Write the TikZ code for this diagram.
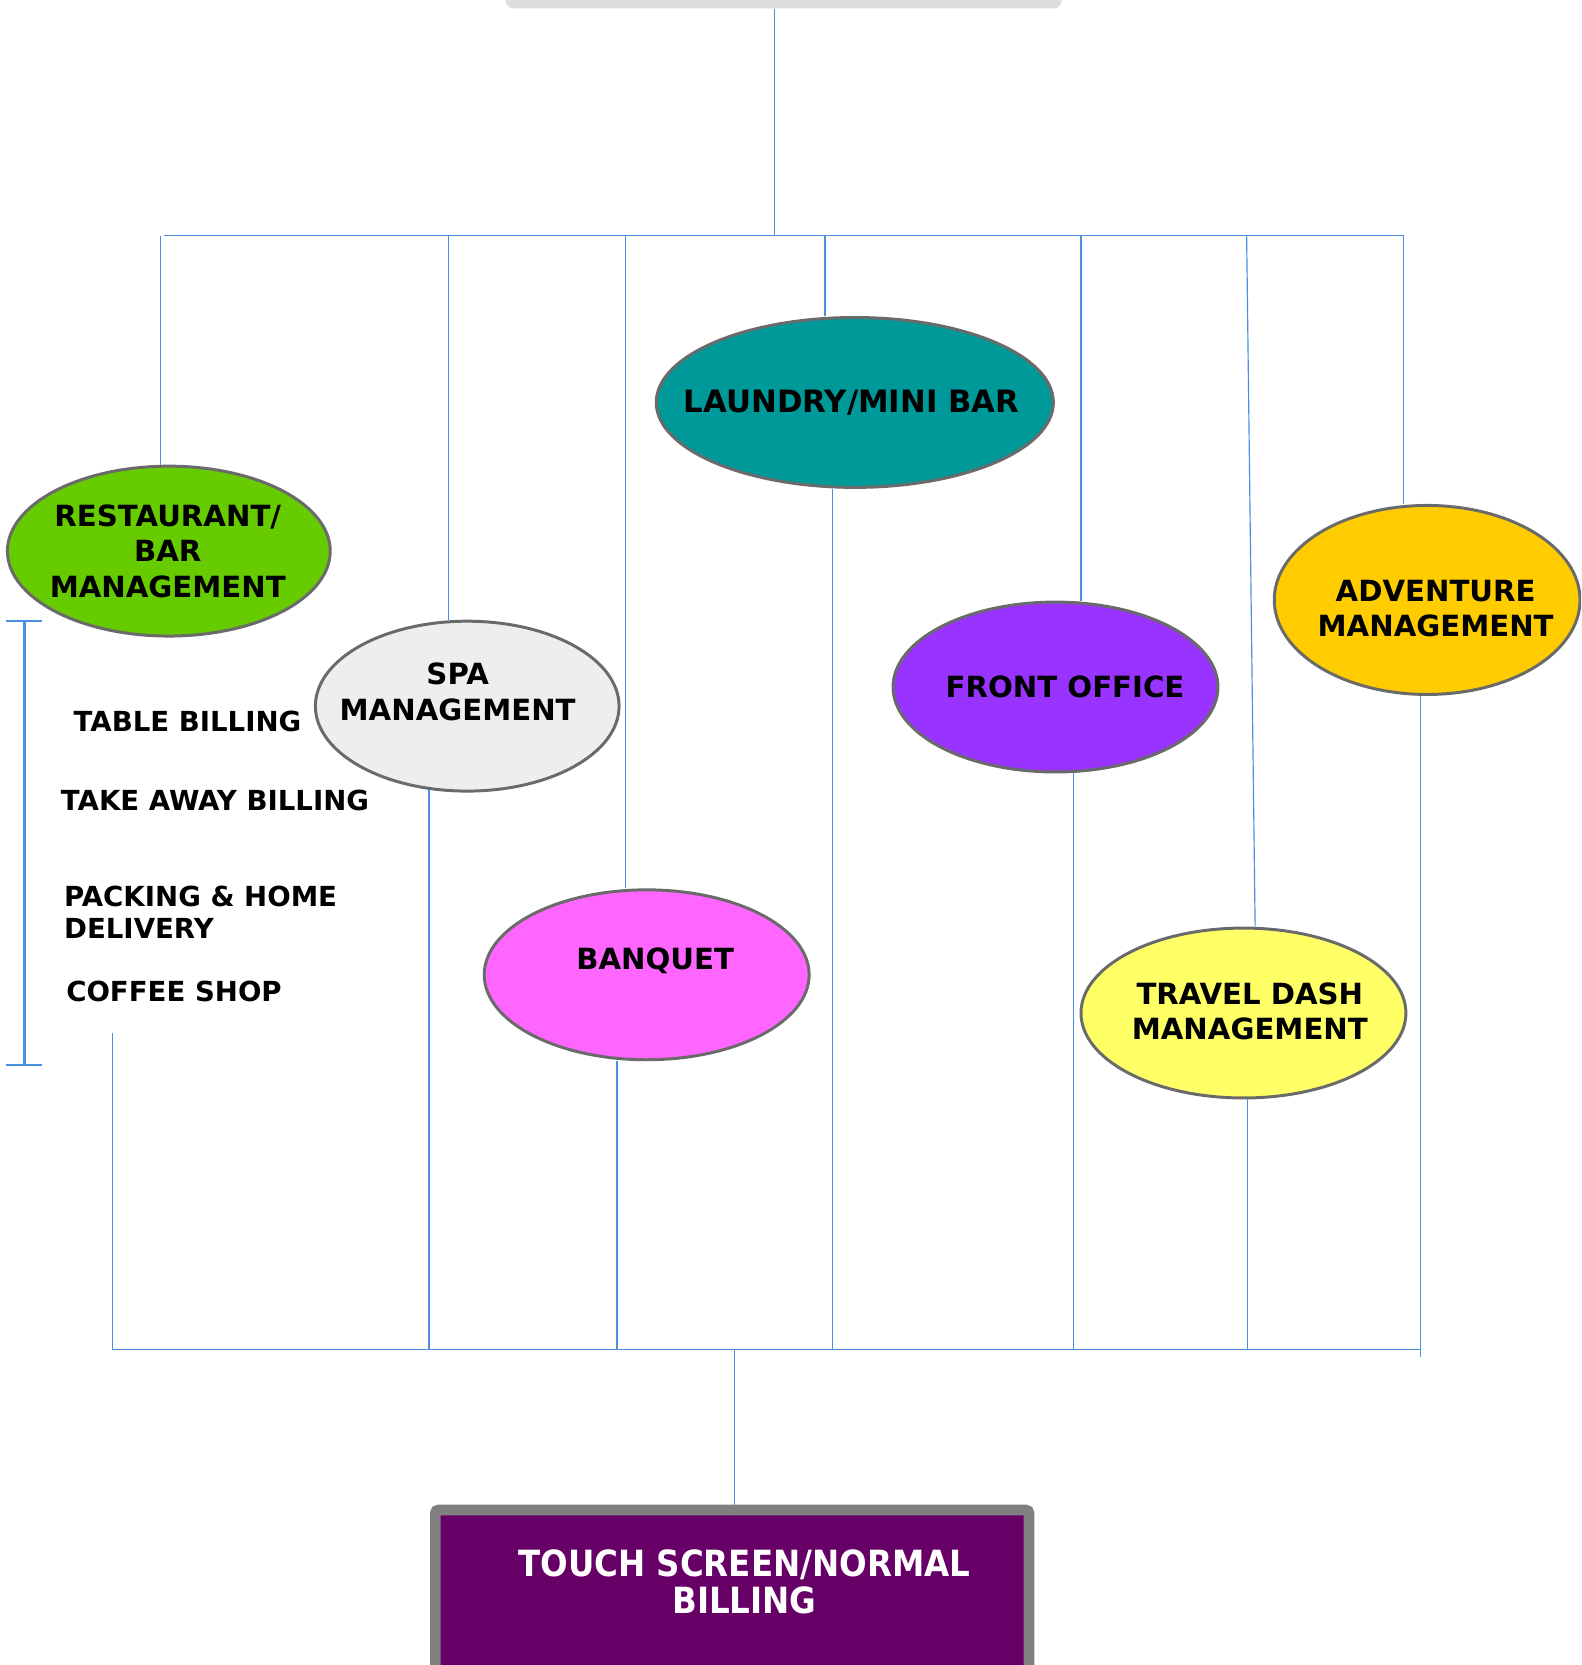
\documentclass[tikz,border=0pt]{standalone}
\usepackage{fontspec}
\setmainfont{DejaVu Sans}
\newfontfamily\condf{DejaVu Sans Condensed}
\usetikzlibrary{shapes.geometric,calc}
\definecolor{connc}{HTML}{4A8FE0}
\definecolor{ovalb}{HTML}{6A6A6A}
\definecolor{teal1}{HTML}{009999}
\definecolor{green1}{HTML}{66CC00}
\definecolor{spa1}{HTML}{EEEEEE}
\definecolor{purple1}{HTML}{9933FF}
\definecolor{gold1}{HTML}{FFCC00}
\definecolor{pink1}{HTML}{FF66FF}
\definecolor{yellow1}{HTML}{FFFF66}
\definecolor{billfill}{HTML}{660066}
\definecolor{billborder}{HTML}{808080}
\definecolor{topfill}{HTML}{DDDDDD}
\tikzset{
  conn/.style={draw=connc, line width=0.55pt},
  bracketline/.style={draw=connc, line width=1.2pt},
  oval/.style={ellipse, draw=ovalb, line width=1.4pt, inner sep=0pt},
  ovaltext/.style={font=\bfseries\fontsize{13.75}{16.75}\selectfont, align=center, text=black},
  sidetext/.style={font=\bfseries\fontsize{13}{15}\selectfont, align=left, anchor=west, inner sep=0pt},
}
\begin{document}
\begin{tikzpicture}[x=0.5pt,y=-0.5pt]
\useasboundingbox (0,0) rectangle (1489,1568);
\clip (0,0) rectangle (1489,1568);

% top box
\node[fill=topfill, rounded corners=4pt, minimum width=262pt, minimum height=20pt, inner sep=0pt] (top) at (738,-12) {};

% ellipses
\node[oval, fill=teal1, minimum width=187pt, minimum height=80pt,
  label={[font=\bfseries\fontsize{14.5}{17}\selectfont, xshift=-1.5pt]center:LAUNDRY/MINI BAR}] (laun) at (805,379) {};
\node[oval, fill=green1, minimum width=152pt, minimum height=80pt,
  label={[ovaltext, xshift=-0.5pt]center:RESTAURANT/\\BAR\\MANAGEMENT}] (rest) at (159,519) {};
\node[oval, fill=spa1, minimum width=143pt, minimum height=80pt,
  label={[ovaltext, xshift=-4.5pt, yshift=6.75pt]center:SPA\\MANAGEMENT}] (spa) at (440,665) {};
\node[oval, fill=purple1, minimum width=153pt, minimum height=80pt,
  label={[ovaltext, xshift=4.5pt]center:FRONT OFFICE}] (front) at (994,647) {};
\node[oval, fill=gold1, minimum width=144pt, minimum height=89pt,
  label={[ovaltext, xshift=4pt, yshift=-4pt]center:ADVENTURE\\MANAGEMENT}] (adv) at (1344,565) {};
\node[oval, fill=pink1, minimum width=153pt, minimum height=80pt,
  label={[ovaltext, xshift=4pt, yshift=6.5pt]center:BANQUET}] (banq) at (609,918) {};
\node[oval, fill=yellow1, minimum width=153pt, minimum height=80pt,
  label={[ovaltext, xshift=3pt, yshift=0.75pt]center:TRAVEL DASH\\MANAGEMENT}] (trav) at (1171,954) {};

% side texts
\node[sidetext] (tb) at (69,679) {TABLE BILLING};
\node[sidetext] (ta) at (57,754) {TAKE AWAY BILLING};
\node[sidetext] (ph) at (60,859) {PACKING \& HOME\\DELIVERY};
\node[sidetext] (cs) at (62,934) {COFFEE SHOP};

% bracket
\draw[bracketline] (23,585) -- (23,1003);
\draw[bracketline] (6,585) -- (40,585);
\draw[bracketline] (6,1003) -- (40,1003);

% top bus
\coordinate (b0) at (729,222);
\draw[conn] (b0 |- top.south) -- (b0);
\draw[conn] (154,222) -- (1322,222);
\coordinate (u1) at (151,222);
\coordinate (u2) at (422,222);
\coordinate (u3) at (589,222);
\coordinate (u4) at (777,222);
\coordinate (u5) at (1018,222);
\coordinate (u6) at (1174,222);
\coordinate (u7) at (1322,222);
\draw[conn] (u1) -- (u1 |- rest.north);
\draw[conn] (u2) -- (u2 |- spa.north);
\draw[conn] (u3) -- (u3 |- banq.north);
\draw[conn] (u4) -- (u4 |- laun.north);
\draw[conn] (u5) -- (u5 |- front.north);
\draw[conn] (u6) -- ($(trav.north)+(11,0)$);
\draw[conn] (u7) -- (u7 |- adv.north);

% bottom bus
\coordinate (csend) at (106,973);
\coordinate (d1) at (106,1271);
\coordinate (d2) at (404,1271);
\coordinate (d3) at (581,1271);
\coordinate (d4) at (784,1271);
\coordinate (d5) at (1011,1271);
\coordinate (d6) at (1175,1271);
\coordinate (d7) at (1338,1278);
\coordinate (d0) at (692,1271);
\draw[conn] (csend) -- (d1);
\draw[conn] ($(d2 |- spa.south)+(0,-2.5)$) -- (d2);
\draw[conn] (d3 |- banq.south) -- (d3);
\draw[conn] (d4 |- laun.south) -- (d4);
\draw[conn] (d5 |- front.south) -- (d5);
\draw[conn] (d6 |- trav.south) -- (d6);
\draw[conn] (d7 |- adv.south) -- (d7);
\draw[conn] (d1) -- (1338,1271);

% bottom box
\node[fill=billfill, draw=billborder, line width=5pt, rounded corners=1.5pt,
  minimum width=279.5pt, minimum height=80pt, inner sep=0pt,
  label={[font=\condf\bfseries\fontsize{17}{17.5}\selectfont, text=white, align=center, xshift=5.75pt, yshift=6pt]center:TOUCH SCREEN/NORMAL\\BILLING}] (bill) at (689.5,1502) {};
\draw[conn] (d0) -- (d0 |- bill.north);
\end{tikzpicture}
\end{document}
